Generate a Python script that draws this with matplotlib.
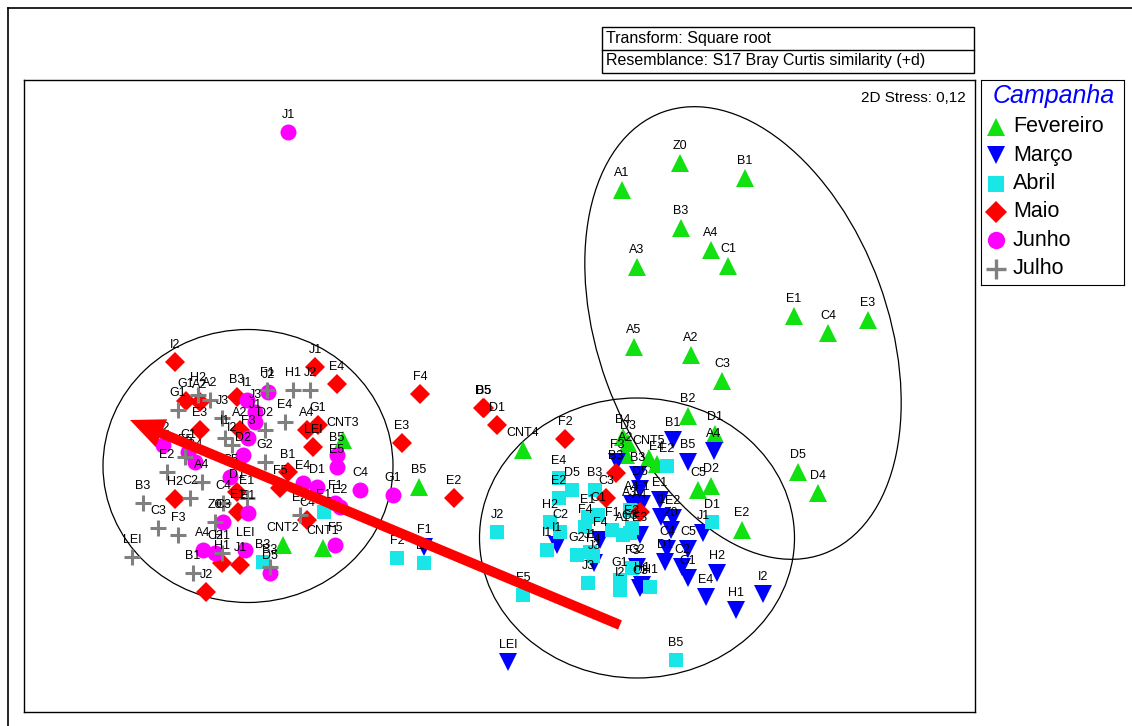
import numpy as np
import matplotlib
matplotlib.use("Agg")
import matplotlib.pyplot as plt
from matplotlib.patches import Ellipse, FancyArrow, Rectangle
from matplotlib.lines import Line2D

plt.rcParams['font.family'] = ['Liberation Sans', 'DejaVu Sans']

# nMDS scores (x to the right, y downwards)
fev_lab = ["Z0", "B1", "A1", "B3", "A4", "C1", "A3", "E1", "C4", "E3", "A5", "A2", "C3", "B2",
           "D1", "B4", "D3", "A2", "CNT5", "E4", "C5", "D2", "D5", "D4", "E2", "CNT4", "B5",
           "CNT3", "CNT2", "CNT1"]
fev_x = [680, 745, 622, 681, 711, 728, 637, 794, 828, 868, 634, 691, 722, 688,
         715, 623, 628, 626, 649, 657, 698, 711, 798, 818, 742, 523, 419,
         343, 283, 323]
fev_y = [163, 178, 190, 228, 250, 266, 267, 316, 333, 320, 347, 355, 381, 416,
         434, 437, 443, 455, 458, 464, 490, 486, 472, 493, 530, 450, 487,
         440, 545, 548]

mar_lab = ["B1", "A4", "B5", "F3", "B3", "D5", "A4", "F1", "E1", "I1", "E2", "Z0", "C4", "D1",
           "C2", "G1", "J1", "C5", "H2", "E4", "H1", "I2", "H1", "I1", "J3", "F4", "LEI", "F1",
           "E3", "G2", "C3"]
mar_x = [673, 714, 688, 617, 638, 640, 632, 642, 660, 661, 673, 671, 667, 665,
         682, 688, 703, 688, 717, 706, 736, 763, 642, 557, 594, 600, 508, 424,
         640, 637, 640]
mar_y = [440, 451, 462, 462, 475, 489, 504, 504, 500, 517, 518, 530, 549, 562,
         567, 578, 533, 549, 573, 597, 610, 594, 585, 545, 563, 540, 662, 547,
         535, 567, 588]

abr_lab = ["E4", "D5", "E2", "B3", "H2", "C2", "C1", "E1", "F4", "F1", "E3", "A3", "A1", "I1",
           "G2", "J1", "F4", "J3", "G1", "I2", "F3", "H1", "J2", "F5", "B5", "F2", "E1", "E2",
           "D1", "E1", "B3", "G3"]
abr_x = [559, 572, 559, 595, 550, 560, 598, 588, 585, 612, 632, 630, 623, 547,
         577, 590, 593, 588, 620, 620, 632, 650, 497, 523, 676, 397, 424, 667,
         712, 324, 263, 630]
abr_y = [478, 490, 498, 490, 522, 532, 515, 517, 527, 530, 528, 510, 535, 550,
         555, 552, 556, 583, 580, 590, 568, 587, 532, 595, 660, 558, 563, 466,
         522, 512, 562, 533]

mai_lab = ["I2", "G1", "A2", "B3", "E3", "A2", "J1", "E4", "G1", "A4", "LEI", "F4", "E3", "E2",
           "B1", "F5", "C4", "D5", "B5", "D1", "F2", "B3", "C3", "A4", "D1", "E1", "H2", "H1",
           "J1", "J2"]
mai_x = [175, 186, 200, 237, 200, 240, 315, 337, 318, 307, 313, 420, 402, 454,
         288, 280, 307, 483, 484, 497, 565, 616, 606, 640, 237, 238, 175, 222,
         240, 206]
mai_y = [362, 401, 402, 397, 430, 430, 367, 384, 425, 430, 447, 394, 443, 498,
         472, 488, 520, 408, 408, 425, 439, 473, 498, 512, 492, 512, 499, 563,
         565, 592]

jun_lab = ["J1", "I1", "J2", "J3", "J1", "F3", "D2", "A2", "C1", "B4", "C5", "E1", "C3", "A4",
           "C2", "LEI", "D5", "B5", "E5", "E4", "D1", "C4", "G1", "F1", "E2", "F5"]
jun_x = [288, 247, 268, 255, 255, 248, 243, 163, 188, 195, 230, 248, 223, 203,
         215, 245, 270, 337, 337, 303, 317, 360, 393, 335, 340, 335]
jun_y = [132, 400, 392, 412, 422, 438, 455, 445, 452, 462, 477, 513, 522, 550,
         553, 550, 573, 455, 467, 483, 487, 490, 495, 503, 507, 545]

jul_lab = ["H2", "A2", "G1", "J3", "I1", "I2", "F5", "E4", "H1", "J2", "G2", "F1", "D2", "E2",
           "A4", "C2", "B3", "C3", "F3", "Z0", "C4", "E1", "LEI", "H1", "B3", "B1", "E3"]
jul_x = [198, 210, 178, 222, 225, 232, 185, 285, 293, 310, 265, 267, 265, 167,
         202, 190, 143, 158, 178, 215, 223, 247, 132, 222, 270, 193, 300]
jul_y = [395, 400, 410, 418, 438, 445, 457, 422, 390, 390, 462, 390, 430, 472,
         482, 498, 503, 528, 535, 522, 503, 498, 557, 553, 567, 573, 515]

groups = ["Fevereiro", "Março", "Abril", "Maio", "Junho", "Julho"]
group_data = [(fev_lab, fev_x, fev_y), (mar_lab, mar_x, mar_y), (abr_lab, abr_x, abr_y),
              (mai_lab, mai_x, mai_y), (jun_lab, jun_x, jun_y), (jul_lab, jul_x, jul_y)]

styles = [
    dict(marker='^', color='#11e011', ms=12.5),
    dict(marker='v', color='#0000ff', ms=12.5),
    dict(marker='s', color='#19e6e6', ms=10.5),
    dict(marker='D', color='#ff0000', ms=10),
    dict(marker='o', color='#ff00ff', ms=11.5),
    dict(marker='+', color='#808080', ms=12),
]

W, H = 1132, 726
fig = plt.figure(figsize=(W / 100, H / 100), dpi=100)


def fig_box(x0, y0, x1, y1):
    # pixel box (top-left origin) -> figure fraction rect
    return [x0 / W, 1 - y1 / H, (x1 - x0) / W, (y1 - y0) / H]


ax = fig.add_axes(fig_box(24, 80, 975, 712))
ax.set_xlim(24, 975)
ax.set_ylim(712, 80)
ax.set_xticks([])
ax.set_yticks([])
for s in ax.spines.values():
    s.set_linewidth(1.0)

# groups ellipses
ax.add_patch(Ellipse((248, 466), 290, 273, fill=False, lw=0.9, color='black', zorder=1))
ax.add_patch(Ellipse((637, 538), 315, 280, fill=False, lw=0.9, color='black', zorder=1))
ax.add_patch(Ellipse((743, 333), 470, 290, angle=70, fill=False, lw=0.9, color='black', zorder=1))

for (lab, xs, ys), st in zip(group_data, styles):
    if st['marker'] == '+':
        ax.plot(xs, ys, linestyle='none', marker='+', color=st['color'], ms=st['ms'],
                mew=2.2, zorder=3)
    else:
        ax.plot(xs, ys, linestyle='none', marker=st['marker'], color=st['color'],
                ms=st['ms'], mew=0, zorder=2)
    for t, x, y in zip(lab, xs, ys):
        ax.text(x, y - 17, t, ha='center', va='center', fontsize=9, zorder=4)

# trend arrow
ax.add_patch(FancyArrow(620, 625, -490, -205, width=10, head_width=30, head_length=34,
                        length_includes_head=True, color='red', lw=0, zorder=6))

ax.text(966, 98, "2D Stress: 0,12", ha='right', va='center', fontsize=11)

# transform / resemblance box
fig.add_artist(Rectangle((602 / W, 1 - 73 / H), 372 / W, 46 / H, transform=fig.transFigure,
                         fill=False, lw=1, color='black'))
fig.add_artist(Line2D([602 / W, 974 / W], [1 - 50 / H, 1 - 50 / H], lw=1, color='black'))
fig.text(606 / W, 1 - 38 / H, "Transform: Square root", fontsize=11.5, va='center')
fig.text(606 / W, 1 - 61 / H, "Resemblance: S17 Bray Curtis similarity (+d)", fontsize=11.5,
         va='center')

# outer frame
fig.add_artist(Line2D([8 / W, 1], [1 - 8 / H, 1 - 8 / H], lw=1.2, color='black'))
fig.add_artist(Line2D([8 / W, 8 / W], [0, 1 - 8 / H], lw=1.2, color='black'))

# legend
lax = fig.add_axes(fig_box(981, 80, 1124, 285))
lax.set_xlim(981, 1124)
lax.set_ylim(285, 80)
lax.set_xticks([])
lax.set_yticks([])
lax.text(1054, 96, "Campanha", ha='center', va='center', fontsize=18, style='italic',
         color='#0000ff')
leg_y0, leg_dy = 127, 28.3
for i, (g, st) in enumerate(zip(groups, styles)):
    y = leg_y0 + i * leg_dy
    if st['marker'] == '+':
        lax.plot([996], [y], marker='+', color=st['color'], ms=st['ms'] + 2, mew=2.4)
    else:
        lax.plot([996], [y], marker=st['marker'], color=st['color'], ms=st['ms'] + 1, mew=0)
    lax.text(1013, y, g, va='center', ha='left', fontsize=15.5)

fig.savefig("out.png", dpi=100)
